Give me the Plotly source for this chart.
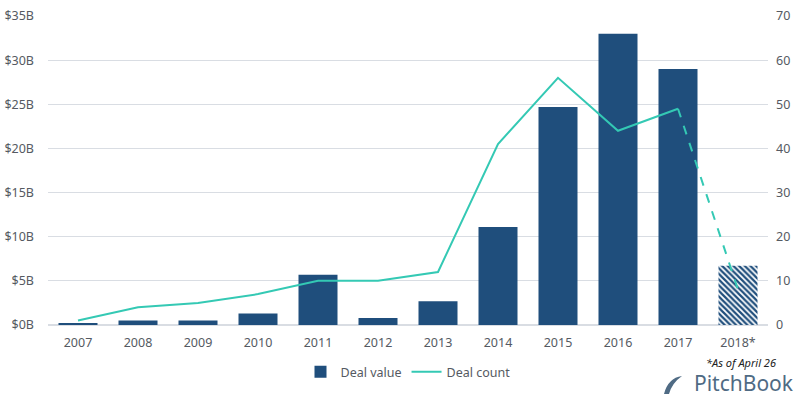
import plotly.graph_objects as go

years = ["2007", "2008", "2009", "2010", "2011", "2012", "2013", "2014", "2015", "2016", "2017", "2018*"]
deal_value_b = [0.2, 0.5, 0.5, 1.3, 5.7, 0.8, 2.7, 11.1, 24.7, 33.0, 29.0, 6.7]
deal_count = [1, 4, 5, 7, 10, 10, 12, 41, 56, 44, 49, 8]
left_ticks = [0, 5, 10, 15, 20, 25, 30, 35]
left_tick_text = ["$0B", "$5B", "$10B", "$15B", "$20B", "$25B", "$30B", "$35B"]
right_ticks = [0, 10, 20, 30, 40, 50, 60, 70]

BAR = "#1f4e7c"
LINE = "#34c9b4"
FONT = "Noto Sans"
TXT = "#555a62"
LOGO = "#4f6b84"

W, H = 800, 399
L, R, T, B = 48, 32, 16, 74
PW, PH = W - L - R, H - T - B


def px(x):
    return (x - L) / PW


def py(y):
    return (H - y - B) / PH


def path(pts):
    # pts: list of (cmd, x, y) in pixel coords -> paper-coord SVG path
    out = []
    for cmd, *xy in pts:
        if cmd == "Z":
            out.append("Z")
        else:
            coords = []
            for i in range(0, len(xy), 2):
                coords.append(f"{px(xy[i]):.5f},{py(xy[i + 1]):.5f}")
            out.append(cmd + " " + " ".join(coords))
    return " ".join(out)


shapes = [""] * (len(years) - 1) + ["\\"]
fig = go.Figure()
fig.add_trace(go.Bar(
    x=years, y=deal_value_b, name="Deal value",
    marker=dict(color=BAR, line=dict(width=0),
                pattern=dict(shape=shapes, fgcolor=BAR, bgcolor="white", size=4, solidity=0.55, fillmode="replace")),
    width=0.65, yaxis="y",
))
fig.add_trace(go.Scatter(
    x=years[:-1], y=deal_count[:-1], name="Deal count", mode="lines",
    line=dict(color=LINE, width=2), yaxis="y2",
))
fig.add_trace(go.Scatter(
    x=years[-2:], y=deal_count[-2:], name="Deal count", mode="lines", showlegend=False,
    line=dict(color=LINE, width=2, dash="dash"), yaxis="y2",
))

feather = path([("M", 664, 394), ("L", 669, 394), ("Q", 672, 383, 682, 376),
                 ("Q", 668, 378, 664, 394), ("Z",)])

fig.update_layout(
    width=W, height=H,
    margin=dict(l=L, r=R, t=T, b=B, autoexpand=False),
    paper_bgcolor="white", plot_bgcolor="white",
    font=dict(family=FONT, size=12, color=TXT),
    xaxis=dict(type="category", showgrid=False, showline=False, ticks="", automargin=False,
               tickfont=dict(size=12.5, color=TXT), ticklabelstandoff=8),
    yaxis=dict(range=[0, 35], tickvals=left_ticks, ticktext=left_tick_text, automargin=False,
               showgrid=True, gridcolor="#d9dde3", gridwidth=1, zeroline=True, zerolinecolor="#d9dde3",
               ticks="", tickfont=dict(size=12.5, color=TXT), ticklabelstandoff=13),
    yaxis2=dict(range=[0, 70], tickvals=right_ticks, overlaying="y", side="right", automargin=False,
                showgrid=False, zeroline=False, ticks="", tickfont=dict(size=12.5, color=TXT),
                ticklabelstandoff=7),
    legend=dict(orientation="h", x=0.5, xanchor="center", yref="container", y=1 - 357 / H, yanchor="top",
                font=dict(size=12.5, color=TXT), traceorder="normal", itemwidth=30),
    shapes=[dict(type="path", xref="paper", yref="paper", path=feather,
                 fillcolor=LOGO, line=dict(width=0))],
    annotations=[
        dict(text="<i>*As of April 26</i>", x=px(777), y=py(362), xref="paper", yref="paper", showarrow=False,
             font=dict(size=11, color="#222"), xanchor="right", yanchor="middle", borderpad=0),
        dict(text="PitchBook", x=px(795), y=py(398), xref="paper", yref="paper", showarrow=False,
             xanchor="right", yanchor="bottom", borderpad=0,
             font=dict(size=21, color=LOGO, family=FONT)),
    ],
)
fig.write_html("out.html", config={"displayModeBar": False},
               post_script="document.body.style.margin='0';document.body.style.padding='0';")
